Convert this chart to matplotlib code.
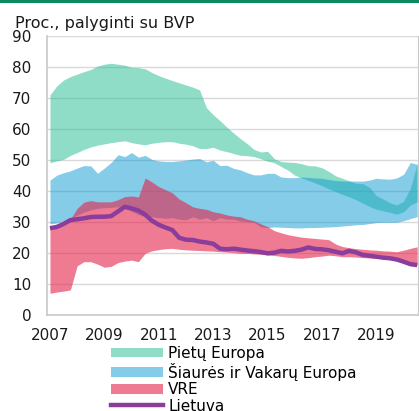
import numpy as np
import matplotlib
matplotlib.use("Agg")
import matplotlib.pyplot as plt
from matplotlib.patches import Patch
from matplotlib.lines import Line2D

# -------- DATA (quarterly, 2007 Q1 - 2020 Q3) --------
START_YEAR = 2007

south_upper = [71.1, 74.0, 75.9, 77.0, 77.8, 78.6, 79.3, 80.4, 81.0, 81.3, 81.0, 80.7, 80.0, 79.9,
               79.5, 78.3, 77.3, 76.5, 75.7, 75.0, 74.3, 73.6, 72.7, 67.0, 64.7, 62.8, 60.7, 58.8,
               57.0, 55.4, 53.5, 52.7, 52.9, 50.5, 49.6, 49.4, 49.3, 48.9, 48.3, 48.2, 47.6, 46.4,
               45.0, 44.2, 43.4, 42.6, 42.5, 41.3, 38.6, 37.5, 36.3, 35.6, 36.8, 41.0, 49.0]
south_lower = [49.2, 49.8, 50.3, 51.6, 52.5, 53.5, 54.3, 54.9, 55.3, 55.7, 56.0, 56.3, 55.7, 55.3,
               55.0, 55.5, 55.8, 56.0, 56.0, 55.5, 55.2, 54.7, 53.8, 53.8, 54.2, 53.3, 52.8, 52.2,
               51.6, 51.5, 51.2, 50.5, 49.7, 49.2, 48.0, 46.8, 45.2, 44.3, 43.5, 42.7, 41.8, 40.8,
               39.9, 39.0, 38.2, 37.3, 36.2, 35.1, 34.2, 33.7, 33.2, 32.6, 33.4, 35.6, 36.6]

nw_upper = [43.6, 45.2, 46.0, 46.6, 47.5, 48.3, 48.2, 45.8, 47.5, 49.3, 51.8, 51.2, 52.5, 51.0,
            51.6, 50.3, 49.8, 49.6, 49.6, 49.8, 50.1, 50.4, 50.6, 49.5, 50.0, 48.3, 48.4, 47.4,
            46.9, 46.0, 45.3, 45.3, 45.8, 45.8, 44.6, 44.4, 44.4, 44.6, 44.5, 44.3, 44.2, 43.8,
            43.5, 43.3, 43.3, 43.3, 43.3, 43.6, 44.2, 44.0, 43.9, 44.3, 45.5, 49.3, 48.7]
nw_lower = [29.5, 29.8, 30.5, 31.2, 32.3, 33.3, 34.0, 34.5, 34.7, 34.8, 35.0, 34.5, 33.5, 32.5,
            31.8, 31.8, 31.5, 31.3, 31.5, 31.0, 30.8, 31.8, 31.0, 31.5, 30.5, 31.5, 31.0, 31.0,
            30.4, 30.2, 30.0, 28.5, 28.3, 28.5, 28.4, 28.3, 28.2, 28.2, 28.3, 28.3, 28.4, 28.5,
            28.6, 28.8, 29.0, 29.2, 29.3, 29.6, 29.9, 30.0, 30.0, 30.0, 30.5, 31.2, 31.8]

cee_upper = [28.5, 29.0, 30.0, 31.0, 34.5, 36.5, 37.0, 36.6, 36.6, 36.6, 37.3, 38.3, 38.5, 38.2,
             44.3, 43.0, 41.5, 40.5, 39.5, 37.5, 36.3, 35.0, 34.5, 34.2, 33.4, 33.0, 32.4, 32.0,
             31.8, 31.0, 30.5, 29.5, 28.6, 27.3, 26.6, 26.0, 25.6, 25.2, 25.0, 24.8, 24.6, 24.4,
             23.0, 22.2, 21.8, 21.5, 21.3, 21.1, 21.0, 20.8, 20.7, 20.5, 21.0, 21.6, 22.1]
cee_lower = [7.1, 7.5, 7.8, 8.2, 16.0, 17.3, 17.3, 16.5, 15.5, 15.8, 17.0, 17.5, 17.8, 17.3,
             20.0, 20.8, 21.2, 21.5, 21.6, 21.3, 21.1, 21.0, 20.9, 20.8, 20.7, 20.5, 20.4, 20.2,
             20.0, 20.0, 19.8, 19.7, 19.5, 19.3, 19.0, 18.7, 18.5, 18.4, 18.6, 18.9, 19.1, 19.4,
             19.2, 18.9, 18.9, 18.8, 18.6, 18.5, 18.4, 18.3, 18.0, 17.6, 17.0, 16.5, 16.2]

lithuania = [28.1, 28.5, 29.5, 30.7, 31.0, 31.3, 31.7, 31.8, 31.8, 32.0, 33.5, 35.0, 34.5, 33.8,
             32.5, 30.5, 29.2, 28.3, 27.5, 25.0, 24.4, 24.3, 23.8, 23.5, 23.1, 21.5, 21.3, 21.5,
             21.2, 20.9, 20.7, 20.4, 20.0, 20.2, 20.8, 20.6, 20.8, 21.2, 21.9, 21.4, 21.3, 21.0,
             20.5, 20.0, 20.8, 20.3, 19.5, 19.2, 18.9, 18.6, 18.4, 18.0, 17.3, 16.5, 16.2]

labels = ["Pietų Europa", "Šiaurės ir Vakarų Europa", "VRE", "Lietuva"]
year_ticks = [2007, 2009, 2011, 2013, 2015, 2017, 2019]
y_ticks = [0, 10, 20, 30, 40, 50, 60, 70, 80, 90]
# ------------------------------------------------------

GREEN = "#23bd91"
BLUE = "#0d9bd3"
RED = "#e4234a"
PURPLE = "#8b3d9c"


def main():
    x = START_YEAR + np.arange(len(lithuania)) / 4.0

    plt.rcParams["font.family"] = "DejaVu Sans"
    fig = plt.figure(figsize=(4.19, 4.11), dpi=100)
    ax = fig.add_axes([0.1115, 0.2328, 0.8861, 0.6789])

    ax.fill_between(x, south_lower, south_upper, color=GREEN, alpha=0.5, lw=0)
    ax.fill_between(x, nw_lower, nw_upper, color=BLUE, alpha=0.5, lw=0)
    ax.fill_between(x, cee_lower, cee_upper, color=RED, alpha=0.6, lw=0)
    ax.plot(x, lithuania, color=PURPLE, lw=3.2, solid_capstyle="butt")

    ax.set_xlim(2006.88, 2020.53)
    ax.set_ylim(0, 90)
    ax.set_xticks(year_ticks)
    ax.set_yticks(y_ticks)
    ax.tick_params(axis="both", length=0, labelsize=11, colors="#1a1a1a")
    ax.tick_params(axis="y", pad=11)
    ax.tick_params(axis="x", pad=9)
    ax.grid(axis="y", color="#d9d9d9", lw=1)
    ax.set_axisbelow(True)
    for side in ["left", "bottom", "right"]:
        ax.spines[side].set_color("#c8c8c8")
        ax.spines[side].set_linewidth(1.2)
    ax.spines["top"].set_visible(False)
    ax.spines["right"].set_linewidth(0.8)

    # title above the axes and the thin green rule at the top
    fig.text(15 / 419, 1 - 27.7 / 411, "Proc., palyginti su BVP", fontsize=11.5,
             color="#1a1a1a", va="baseline", ha="left")
    fig.add_artist(Line2D([0, 1], [1 - 1 / 411, 1 - 1 / 411], transform=fig.transFigure,
                          color="#0b8a5e", lw=2.2))

    handles = [
        Patch(facecolor=GREEN, alpha=0.5, lw=0),
        Patch(facecolor=BLUE, alpha=0.5, lw=0),
        Patch(facecolor=RED, alpha=0.6, lw=0),
        Line2D([], [], color=PURPLE, lw=3.2),
    ]
    fig.legend(handles, labels, loc="upper left", bbox_to_anchor=(111 / 419, 1 - 346 / 411),
               frameon=False, fontsize=11, handlelength=3.4, handleheight=0.6,
               handletextpad=0.35, labelspacing=0.1, borderaxespad=0, borderpad=0)

    fig.savefig("out.png", dpi=100)


if __name__ == "__main__":
    main()
